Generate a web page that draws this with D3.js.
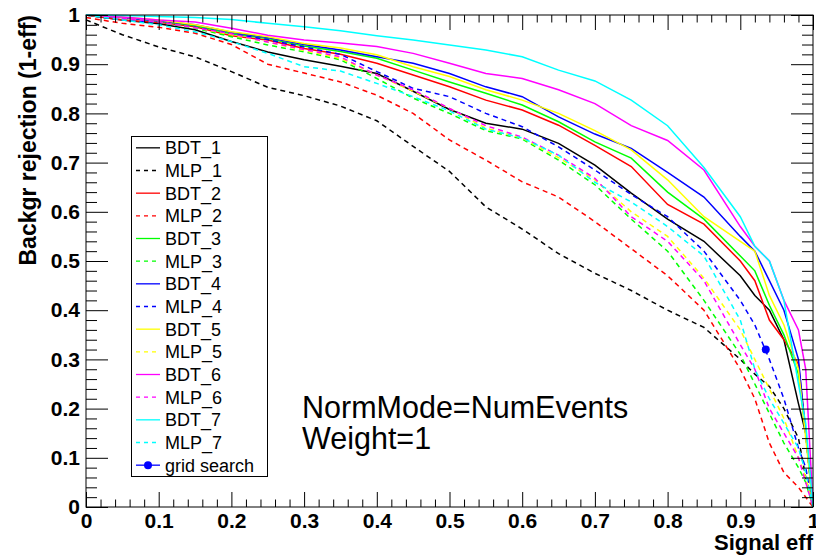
<!DOCTYPE html>
<html>
<head>
<meta charset="utf-8">
<script src="https://cdn.jsdelivr.net/npm/d3@7"></script>
<style>
  body { margin: 0; background: #fff; }
  svg { display: block; font-family: "Liberation Sans", Arial, Helvetica, sans-serif; }
</style>
</head>
<body>
<svg id="chart" width="816" height="557"></svg>
<script>
// signal efficiency sample points (x)
const signal_eff = [0, 0.05, 0.1, 0.15, 0.2, 0.25, 0.3, 0.35, 0.4, 0.45, 0.5, 0.55, 0.6,
  0.65, 0.7, 0.75, 0.8, 0.85, 0.9, 0.92, 0.94, 0.96, 0.98, 0.99, 1.0]

// background rejection per method
const bdt_1 = [1.0, 0.99, 0.982, 0.970, 0.946, 0.925, 0.909, 0.896, 0.881, 0.845, 0.808, 0.78, 0.768,
  0.739, 0.695, 0.638, 0.585, 0.54, 0.47, 0.43, 0.40, 0.34, 0.21, 0.15, 0.0]
const mlp_1 = [0.99, 0.96, 0.935, 0.915, 0.885, 0.853, 0.836, 0.815, 0.785, 0.733, 0.682, 0.61, 0.565,
  0.515, 0.475, 0.44, 0.40, 0.365, 0.30, 0.27, 0.245, 0.20, 0.14, 0.06, 0.0]
const bdt_2 = [1.0, 0.99, 0.985, 0.976, 0.958, 0.949, 0.932, 0.92, 0.902, 0.878, 0.854, 0.827, 0.807,
  0.776, 0.735, 0.692, 0.615, 0.575, 0.50, 0.46, 0.38, 0.34, 0.29, 0.15, 0.0]
const mlp_2 = [0.995, 0.983, 0.975, 0.963, 0.94, 0.90, 0.882, 0.864, 0.837, 0.80, 0.746, 0.705, 0.661,
  0.63, 0.58, 0.525, 0.47, 0.40, 0.28, 0.22, 0.13, 0.07, 0.04, 0.02, 0.0]
const bdt_3 = [1.0, 0.995, 0.988, 0.978, 0.962, 0.952, 0.937, 0.926, 0.912, 0.888, 0.864, 0.841, 0.817,
  0.783, 0.742, 0.709, 0.64, 0.585, 0.51, 0.48, 0.41, 0.35, 0.27, 0.15, 0.0]
const mlp_3 = [1.0, 0.99, 0.985, 0.973, 0.956, 0.939, 0.925, 0.909, 0.871, 0.831, 0.80, 0.765, 0.748,
  0.705, 0.655, 0.585, 0.52, 0.42, 0.31, 0.25, 0.19, 0.13, 0.08, 0.05, 0.0]
const bdt_4 = [1.0, 0.995, 0.988, 0.98, 0.965, 0.954, 0.940, 0.929, 0.915, 0.902, 0.881, 0.854, 0.834,
  0.793, 0.758, 0.729, 0.68, 0.63, 0.55, 0.52, 0.46, 0.40, 0.30, 0.15, 0.0]
const mlp_4 = [1.0, 0.99, 0.985, 0.975, 0.962, 0.95, 0.935, 0.92, 0.885, 0.851, 0.834, 0.80, 0.773,
  0.732, 0.685, 0.635, 0.59, 0.52, 0.42, 0.37, 0.30, 0.22, 0.12, 0.08, 0.0]
const bdt_5 = [1.0, 0.996, 0.99, 0.98, 0.966, 0.956, 0.942, 0.933, 0.919, 0.895, 0.875, 0.848, 0.827,
  0.80, 0.765, 0.726, 0.665, 0.59, 0.54, 0.52, 0.43, 0.37, 0.28, 0.14, 0.0]
const mlp_5 = [1.0, 0.993, 0.986, 0.974, 0.96, 0.945, 0.928, 0.912, 0.878, 0.845, 0.81, 0.77, 0.75,
  0.71, 0.665, 0.60, 0.55, 0.465, 0.36, 0.30, 0.24, 0.18, 0.10, 0.06, 0.0]
const bdt_6 = [1.0, 0.996, 0.99, 0.986, 0.973, 0.959, 0.949, 0.943, 0.936, 0.922, 0.902, 0.881, 0.871,
  0.848, 0.82, 0.775, 0.745, 0.685, 0.57, 0.53, 0.50, 0.42, 0.36, 0.28, 0.0]
const mlp_6 = [1.0, 0.993, 0.986, 0.974, 0.962, 0.945, 0.93, 0.915, 0.878, 0.848, 0.81, 0.775, 0.752,
  0.715, 0.668, 0.59, 0.54, 0.46, 0.33, 0.28, 0.20, 0.15, 0.10, 0.05, 0.0]
const bdt_7 = [1.0, 0.999, 0.997, 0.995, 0.991, 0.983, 0.976, 0.968, 0.958, 0.949, 0.939, 0.929, 0.915,
  0.888, 0.866, 0.827, 0.775, 0.69, 0.59, 0.53, 0.50, 0.42, 0.25, 0.17, 0.0]
const mlp_7 = [1.0, 0.99, 0.98, 0.966, 0.946, 0.922, 0.895, 0.886, 0.861, 0.834, 0.805, 0.768, 0.75,
  0.715, 0.66, 0.62, 0.57, 0.51, 0.38, 0.28, 0.22, 0.17, 0.12, 0.07, 0.0]

const grid_search = [[0.935, 0.32]]

const method_names = ['BDT_1', 'MLP_1', 'BDT_2', 'MLP_2', 'BDT_3', 'MLP_3', 'BDT_4', 'MLP_4',
  'BDT_5', 'MLP_5', 'BDT_6', 'MLP_6', 'BDT_7', 'MLP_7']
const method_values = [bdt_1, mlp_1, bdt_2, mlp_2, bdt_3, mlp_3, bdt_4, mlp_4,
  bdt_5, mlp_5, bdt_6, mlp_6, bdt_7, mlp_7]
const method_colors = ['#000000', '#000000', '#ff0000', '#ff0000', '#00ff00', '#00ff00',
  '#0000ff', '#0000ff', '#ffff00', '#ffff00', '#ff00ff', '#ff00ff', '#00ffff', '#00ffff']

const x_ticks = [0, 0.1, 0.2, 0.3, 0.4, 0.5, 0.6, 0.7, 0.8, 0.9, 1]
const y_ticks = [0, 0.1, 0.2, 0.3, 0.4, 0.5, 0.6, 0.7, 0.8, 0.9, 1]

const frame = { left: 86, right: 813, top: 15, bottom: 507 }
const svg = d3.select('#chart')

const x = d3.scaleLinear().domain([0, 1]).range([frame.left, frame.right])
const y = d3.scaleLinear().domain([0, 1]).range([frame.bottom, frame.top])

const fmt = d => d === 0 || d === 1 ? String(d) : d3.format('.1f')(d)
const minor_vals = d3.range(0, 50).map(i => i * 0.02).filter(v => Math.abs(v * 10 - Math.round(v * 10)) > 1e-6)

// curves
const line = d3.line().x((d, i) => x(signal_eff[i])).y(d => y(d))
let curves = svg.append('g').attr('id', 'curves')
method_values.forEach((vals, k) => {
  curves.append('path')
    .attr('d', line(vals))
    .attr('fill', 'none')
    .attr('stroke', method_colors[k])
    .attr('stroke-width', 1.5)
    .attr('stroke-dasharray', k % 2 == 1 ? '5,4' : null)
})

// grid search point
svg.append('g').selectAll('circle')
  .data(grid_search)
  .join('circle')
  .attr('cx', d => x(d[0]))
  .attr('cy', d => y(d[1]))
  .attr('r', 4)
  .attr('fill', '#0000ff')

// frame
svg.append('rect')
  .attr('x', frame.left).attr('y', frame.top)
  .attr('width', frame.right - frame.left).attr('height', frame.bottom - frame.top)
  .attr('fill', 'none').attr('stroke', '#000').attr('stroke-width', 1)

function style_axis(g) {
  g.select('.domain').remove()
  g.selectAll('line').attr('stroke', '#000').attr('stroke-width', 1)
  g.selectAll('text').attr('font-size', 21).attr('font-weight', 'bold')
    .attr('font-family', '"Liberation Sans", Arial, sans-serif').attr('fill', '#000')
}

// bottom & top axis
svg.append('g').attr('transform', `translate(0,${frame.bottom})`)
  .call(d3.axisBottom(x).tickValues(x_ticks).tickFormat(fmt).tickSizeInner(-15).tickSizeOuter(0).tickPadding(6))
  .call(style_axis)
svg.append('g').attr('transform', `translate(0,${frame.bottom})`)
  .call(d3.axisBottom(x).tickValues(minor_vals).tickFormat('').tickSizeInner(-7.5).tickSizeOuter(0))
  .call(style_axis)
svg.append('g').attr('transform', `translate(0,${frame.top})`)
  .call(d3.axisTop(x).tickValues(x_ticks).tickFormat('').tickSizeInner(-15).tickSizeOuter(0))
  .call(style_axis)
svg.append('g').attr('transform', `translate(0,${frame.top})`)
  .call(d3.axisTop(x).tickValues(minor_vals).tickFormat('').tickSizeInner(-7.5).tickSizeOuter(0))
  .call(style_axis)

// left & right axis
svg.append('g').attr('transform', `translate(${frame.left},0)`)
  .call(d3.axisLeft(y).tickValues(y_ticks).tickFormat(fmt).tickSizeInner(-22).tickSizeOuter(0).tickPadding(6))
  .call(style_axis)
svg.append('g').attr('transform', `translate(${frame.left},0)`)
  .call(d3.axisLeft(y).tickValues(minor_vals).tickFormat('').tickSizeInner(-11).tickSizeOuter(0))
  .call(style_axis)
svg.append('g').attr('transform', `translate(${frame.right},0)`)
  .call(d3.axisRight(y).tickValues(y_ticks).tickFormat('').tickSizeInner(-22).tickSizeOuter(0))
  .call(style_axis)
svg.append('g').attr('transform', `translate(${frame.right},0)`)
  .call(d3.axisRight(y).tickValues(minor_vals).tickFormat('').tickSizeInner(-11).tickSizeOuter(0))
  .call(style_axis)

// axis titles
svg.append('text')
  .attr('x', frame.right).attr('y', 550)
  .attr('text-anchor', 'end')
  .attr('font-size', 22).attr('font-weight', 'bold')
  .text('Signal eff')
svg.append('text')
  .attr('transform', `translate(36,${frame.top}) rotate(-90)`)
  .attr('text-anchor', 'end')
  .attr('font-size', 23).attr('font-weight', 'bold')
  .text('Backgr rejection (1-eff)')

// annotation
svg.append('text').attr('x', 302).attr('y', 418).attr('font-size', 30.5).text('NormMode=NumEvents')
svg.append('text').attr('x', 302).attr('y', 449).attr('font-size', 30.5).text('Weight=1')

// legend
const legend_box = { x: 131.5, y: 136.5, w: 136, h: 340 }
let legend = svg.append('g').attr('id', 'legend')
legend.append('rect')
  .attr('x', legend_box.x).attr('y', legend_box.y)
  .attr('width', legend_box.w).attr('height', legend_box.h)
  .attr('fill', '#fff').attr('stroke', '#000').attr('stroke-width', 1)

const row_h = legend_box.h / (method_names.length + 1)
const legend_items = method_names.map((name, k) => ({ name: name, color: method_colors[k], dashed: k % 2 == 1, marker: false }))
legend_items.push({ name: 'grid search', color: '#0000ff', dashed: false, marker: true })

legend_items.forEach((item, k) => {
  let cy = legend_box.y + row_h * (k + 0.5)
  legend.append('line')
    .attr('x1', 136).attr('x2', 160).attr('y1', cy).attr('y2', cy)
    .attr('stroke', item.color).attr('stroke-width', 1.3)
    .attr('stroke-dasharray', item.dashed ? '4,4' : null)
  if (item.marker) {
    legend.append('circle').attr('cx', 148).attr('cy', cy).attr('r', 4).attr('fill', '#0000ff')
  }
  legend.append('text')
    .attr('x', 165).attr('y', cy).attr('dy', '0.36em')
    .attr('font-size', 18)
    .text(item.name)
})
</script>
</body>
</html>
